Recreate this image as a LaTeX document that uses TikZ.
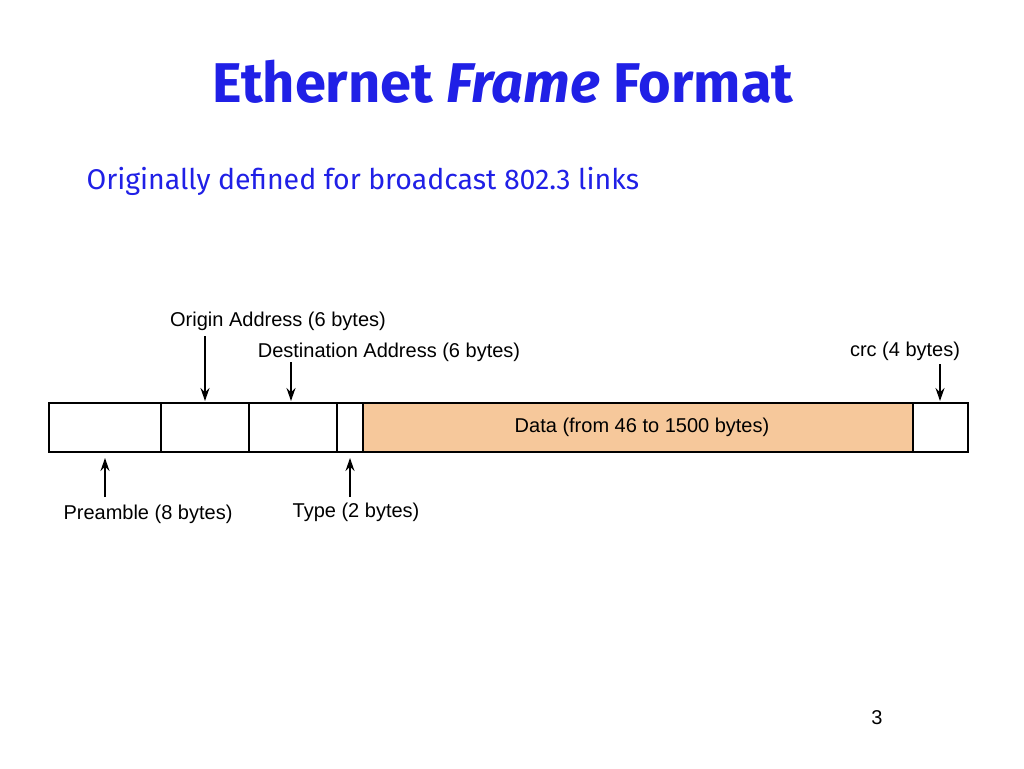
\documentclass[tikz,border=0pt]{standalone}
\usepackage{fontspec}
\usetikzlibrary{arrows.meta}
\setmainfont{Liberation Sans}
\newfontfamily\titlefont{Fira Sans}
\definecolor{tblue}{RGB}{32,32,230}
\definecolor{dataor}{RGB}{246,200,155}
\begin{document}
\begin{tikzpicture}[x=1pt,y=-1pt,
  fbox/.style={draw,line width=1.3pt,inner sep=0pt},
  lbl/.style={font=\fontsize{20}{22}\selectfont,inner sep=0pt},
  arr/.style={-{Stealth[length=13pt,width=9pt]},line width=1.5pt}]
\useasboundingbox (0,0) rectangle (1024,768);
\node[font=\titlefont\bfseries\fontsize{56}{62}\selectfont,text=tblue] (title) at (503,82) {Ethernet \textit{Frame} Format};
\node[font=\titlefont\fontsize{28.5}{32}\selectfont,text=tblue,anchor=west] (sub) at (83,181) {Originally defined for broadcast 802.3 links};
\path[fbox] (49,403) rectangle (161,452) node[midway] (b1) {};
\path[fbox] (161,403) rectangle (249,452) node[midway] (b2) {};
\path[fbox] (249,403) rectangle (337,452) node[midway] (b3) {};
\path[fbox] (337,403) rectangle (363,452) node[midway] (b4) {};
\path[fbox,fill=dataor] (363,403) rectangle (913,452) node[midway] (b5) {};
\path[fbox] (913,403) rectangle (968,452) node[midway] (b6) {};
\node[lbl] (dl) at (642,427) {Data (from 46 to 1500 bytes)};
\node[lbl] (ol) at (278,321) {Origin Address (6 bytes)};
\node[lbl] (dsl) at (389,352) {Destination Address (6 bytes)};
\node[lbl] (cl) at (905,351) {crc (4 bytes)};
\node[lbl] (pl) at (148,514) {Preamble (8 bytes)};
\node[lbl] (tl) at (356,512) {Type (2 bytes)};
\node[lbl] (pg) at (877,718) {3};
\coordinate (o1) at (205,336); \coordinate (o2) at (205,401);
\coordinate (d1) at (291,362); \coordinate (d2) at (291,401);
\coordinate (c1) at (940,364); \coordinate (c2) at (940,401);
\coordinate (p1) at (105,497); \coordinate (p2) at (105,458);
\coordinate (t1) at (350,497); \coordinate (t2) at (350,458);
\draw[arr] (o1) -- (o2);
\draw[arr] (d1) -- (d2);
\draw[arr] (c1) -- (c2);
\draw[arr] (p1) -- (p2);
\draw[arr] (t1) -- (t2);
\end{tikzpicture}
\end{document}
